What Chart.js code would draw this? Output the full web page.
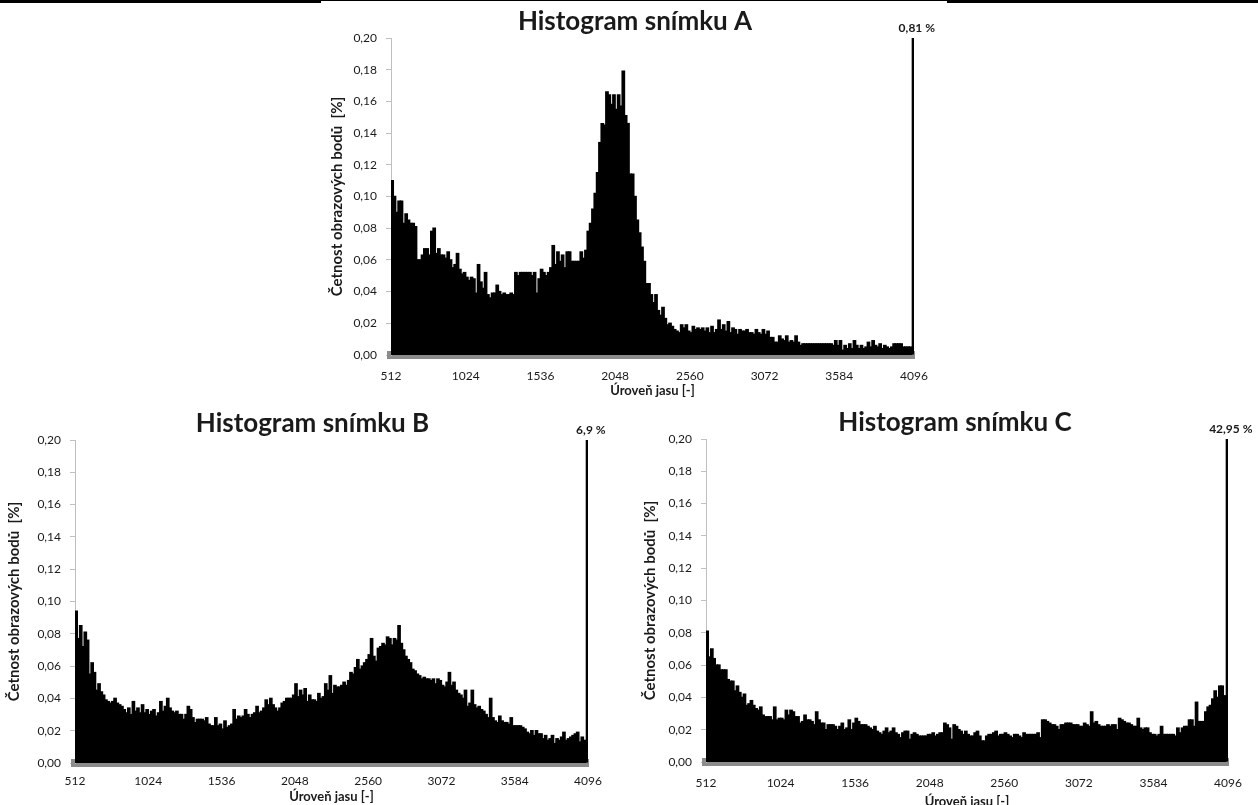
<!DOCTYPE html>
<html>
<head>
<meta charset="utf-8">
<script src="https://cdn.jsdelivr.net/npm/chart.js@4.4.1/dist/chart.umd.min.js"></script>
<style>
  html, body { margin: 0; padding: 0; background: #fff; overflow: hidden; }
  body { width: 1258px; height: 805px; position: relative; }
  canvas { position: absolute; }
  .edge { position: absolute; top: 0; background: #000; }
</style>
</head>
<body>
<div class="edge" style="left:0;width:321px;height:3px"></div>
<div class="edge" style="left:321px;width:626px;height:1px"></div>
<div class="edge" style="left:947px;width:311px;height:3px"></div>

<canvas id="chartA" width="620" height="405" style="left:325px;top:0px"></canvas>
<canvas id="chartB" width="625" height="403" style="left:0px;top:402px"></canvas>
<canvas id="chartC" width="634" height="409" style="left:638px;top:401px"></canvas>

<script>
// histogram bins: 16 brightness levels each, from 512 to 4096 (last bin = saturated spike)
const binStart = 512;
const binWidth = 16;
const xTicks = [512, 1024, 1536, 2048, 2560, 3072, 3584, 4096];
const yMax = 0.20;
const yStep = 0.02;

const titles = ['Histogram snímku A', 'Histogram snímku B', 'Histogram snímku C'];
const xTitle = 'Úroveň jasu [-]';
const yTitle = 'Četnost obrazových bodů  [%]';

const histA = [
  0.110, 0.100, 0.090, 0.097, 0.097, 0.083, 0.089, 0.085, 0.083, 0.083,
  0.081, 0.060, 0.060, 0.063, 0.067, 0.067, 0.063, 0.078, 0.080, 0.064,
  0.067, 0.063, 0.063, 0.061, 0.065, 0.060, 0.055, 0.057, 0.064, 0.054,
  0.051, 0.052, 0.049, 0.047, 0.049, 0.048, 0.039, 0.057, 0.046, 0.042,
  0.052, 0.038, 0.036, 0.039, 0.039, 0.044, 0.040, 0.038, 0.039, 0.038,
  0.038, 0.039, 0.038, 0.052, 0.050, 0.052, 0.052, 0.052, 0.052, 0.052,
  0.050, 0.052, 0.039, 0.048, 0.054, 0.052, 0.050, 0.052, 0.055, 0.069,
  0.057, 0.065, 0.059, 0.063, 0.055, 0.065, 0.065, 0.059, 0.059, 0.059,
  0.059, 0.065, 0.061, 0.066, 0.078, 0.083, 0.092, 0.102, 0.115, 0.134,
  0.146, 0.145, 0.166, 0.164, 0.158, 0.164, 0.155, 0.164, 0.157, 0.179,
  0.151, 0.146, 0.114, 0.114, 0.100, 0.085, 0.077, 0.068, 0.059, 0.045,
  0.045, 0.038, 0.033, 0.038, 0.028, 0.025, 0.030, 0.023, 0.019, 0.020,
  0.018, 0.016, 0.015, 0.014, 0.019, 0.017, 0.019, 0.015, 0.014, 0.018,
  0.016, 0.017, 0.016, 0.017, 0.015, 0.017, 0.014, 0.018, 0.014, 0.016,
  0.022, 0.016, 0.019, 0.015, 0.021, 0.014, 0.017, 0.016, 0.013, 0.016,
  0.015, 0.015, 0.016, 0.014, 0.014, 0.013, 0.016, 0.014, 0.013, 0.016,
  0.013, 0.015, 0.011, 0.011, 0.008, 0.008, 0.012, 0.010, 0.009, 0.012,
  0.008, 0.009, 0.008, 0.012, 0.008, 0.006, 0.007, 0.007, 0.007, 0.007,
  0.007, 0.007, 0.007, 0.007, 0.007, 0.007, 0.007, 0.007, 0.007, 0.006,
  0.009, 0.006, 0.009, 0.003, 0.006, 0.004, 0.007, 0.004, 0.009, 0.006,
  0.004, 0.006, 0.004, 0.005, 0.008, 0.005, 0.009, 0.006, 0.005, 0.007,
  0.004, 0.006, 0.005, 0.004, 0.005, 0.007, 0.007, 0.007, 0.007, 0.005,
  0.005, 0.005, 0.005, 0.81
];

const histB = [
  0.094, 0.077, 0.085, 0.072, 0.081, 0.076, 0.055, 0.062, 0.056, 0.045,
  0.049, 0.044, 0.042, 0.039, 0.038, 0.037, 0.038, 0.040, 0.037, 0.036,
  0.035, 0.033, 0.031, 0.034, 0.030, 0.038, 0.032, 0.034, 0.031, 0.036,
  0.031, 0.033, 0.030, 0.032, 0.033, 0.029, 0.031, 0.038, 0.032, 0.035,
  0.040, 0.034, 0.032, 0.031, 0.032, 0.030, 0.030, 0.027, 0.030, 0.035,
  0.033, 0.028, 0.025, 0.027, 0.027, 0.027, 0.026, 0.028, 0.024, 0.023,
  0.023, 0.028, 0.023, 0.024, 0.021, 0.026, 0.022, 0.023, 0.024, 0.033,
  0.027, 0.029, 0.028, 0.029, 0.033, 0.030, 0.028, 0.030, 0.031, 0.035,
  0.031, 0.032, 0.034, 0.039, 0.036, 0.040, 0.036, 0.034, 0.032, 0.034,
  0.037, 0.038, 0.040, 0.040, 0.040, 0.042, 0.049, 0.041, 0.045, 0.042,
  0.046, 0.038, 0.042, 0.039, 0.039, 0.038, 0.043, 0.040, 0.041, 0.049,
  0.045, 0.054, 0.043, 0.048, 0.047, 0.047, 0.048, 0.050, 0.048, 0.051,
  0.056, 0.055, 0.059, 0.064, 0.058, 0.060, 0.062, 0.064, 0.067, 0.077,
  0.066, 0.063, 0.071, 0.072, 0.074, 0.073, 0.078, 0.077, 0.073, 0.077,
  0.076, 0.085, 0.074, 0.070, 0.066, 0.064, 0.062, 0.058, 0.057, 0.055,
  0.054, 0.052, 0.053, 0.052, 0.052, 0.051, 0.052, 0.049, 0.052, 0.051,
  0.048, 0.047, 0.050, 0.056, 0.048, 0.050, 0.045, 0.043, 0.042, 0.040,
  0.045, 0.035, 0.037, 0.045, 0.036, 0.034, 0.035, 0.033, 0.032, 0.030,
  0.028, 0.040, 0.028, 0.026, 0.025, 0.029, 0.026, 0.025, 0.025, 0.024,
  0.028, 0.023, 0.023, 0.023, 0.023, 0.022, 0.021, 0.019, 0.018, 0.020,
  0.017, 0.020, 0.018, 0.018, 0.015, 0.017, 0.014, 0.015, 0.017, 0.012,
  0.015, 0.014, 0.016, 0.019, 0.014, 0.015, 0.016, 0.017, 0.018, 0.019,
  0.013, 0.016, 0.014, 6.9
];

const histC = [
  0.081, 0.065, 0.070, 0.064, 0.060, 0.060, 0.057, 0.057, 0.057, 0.051,
  0.050, 0.050, 0.044, 0.047, 0.043, 0.040, 0.042, 0.035, 0.036, 0.038,
  0.035, 0.033, 0.032, 0.034, 0.029, 0.028, 0.028, 0.028, 0.026, 0.034,
  0.026, 0.027, 0.027, 0.026, 0.032, 0.029, 0.032, 0.031, 0.028, 0.028,
  0.024, 0.025, 0.029, 0.026, 0.026, 0.025, 0.023, 0.031, 0.026, 0.024,
  0.024, 0.020, 0.023, 0.023, 0.023, 0.022, 0.020, 0.022, 0.024, 0.020,
  0.021, 0.026, 0.020, 0.024, 0.027, 0.025, 0.023, 0.023, 0.023, 0.022,
  0.021, 0.020, 0.022, 0.019, 0.018, 0.017, 0.019, 0.021, 0.018, 0.019,
  0.021, 0.018, 0.017, 0.015, 0.018, 0.019, 0.019, 0.014, 0.017, 0.018,
  0.017, 0.016, 0.016, 0.016, 0.016, 0.017, 0.017, 0.018, 0.016, 0.017,
  0.018, 0.018, 0.024, 0.023, 0.021, 0.014, 0.023, 0.022, 0.020, 0.019,
  0.017, 0.019, 0.017, 0.016, 0.016, 0.018, 0.019, 0.016, 0.013, 0.013,
  0.016, 0.017, 0.017, 0.018, 0.019, 0.016, 0.017, 0.017, 0.018, 0.017,
  0.016, 0.015, 0.017, 0.017, 0.016, 0.015, 0.018, 0.017, 0.017, 0.017,
  0.017, 0.017, 0.018, 0.015, 0.026, 0.026, 0.025, 0.024, 0.023, 0.023,
  0.022, 0.020, 0.023, 0.023, 0.024, 0.024, 0.024, 0.023, 0.023, 0.023,
  0.022, 0.022, 0.024, 0.023, 0.022, 0.031, 0.024, 0.025, 0.023, 0.022,
  0.022, 0.022, 0.023, 0.022, 0.023, 0.023, 0.020, 0.027, 0.026, 0.025,
  0.024, 0.024, 0.023, 0.022, 0.022, 0.027, 0.021, 0.020, 0.021, 0.021,
  0.018, 0.017, 0.017, 0.016, 0.017, 0.022, 0.017, 0.017, 0.017, 0.017,
  0.017, 0.016, 0.021, 0.018, 0.021, 0.022, 0.022, 0.026, 0.026, 0.022,
  0.037, 0.025, 0.025, 0.025, 0.031, 0.034, 0.035, 0.039, 0.044, 0.040,
  0.047, 0.047, 0.041, 42.95
];

const fontFamily = 'Lato, "Open Sans", sans-serif';
const textColor = '#1a1a1a';

function fmt(v, digits) {
  return (digits == null ? String(v) : v.toFixed(digits)).replace('.', ',');
}

// writes the off-scale value of the last bin above the plot
const peakLabel = {
  id: 'peakLabel',
  afterDatasetsDraw(chart) {
    const meta = chart.getDatasetMeta(0);
    const idx = meta.data.length - 1;
    const bar = meta.data[idx];
    const v = chart.data.datasets[0].data[idx].y;
    const ctx = chart.ctx;
    ctx.save();
    ctx.font = 'bold 12px ' + fontFamily;
    ctx.fillStyle = textColor;
    ctx.textAlign = 'center';
    ctx.textBaseline = 'bottom';
    ctx.fillText(fmt(v) + ' %', bar.x + 4, chart.chartArea.top - 4);
    ctx.restore();
  }
};

function makeHistogram(id, title, values, box) {
  const points = values.map((v, i) => ({ x: binStart + binWidth * (i + 0.5), y: v }));
  const lastIdx = values.length - 1;

  return new Chart(document.getElementById(id), {
    type: 'bar',
    data: {
      datasets: [{
        data: points,
        backgroundColor: '#000000',
        borderWidth: 0,
        barPercentage: 1.0,
        categoryPercentage: 1.0,
        // close the hairline gaps between neighbouring bins, keep the spike thin
        inflateAmount: (c) => (c.dataIndex === lastIdx ? 0 : 0.7),
        grouped: false
      }]
    },
    options: {
      responsive: false,
      animation: false,
      devicePixelRatio: 1,
      plugins: {
        legend: { display: false },
        tooltip: { enabled: false },
        title: {
          display: true,
          text: title,
          color: textColor,
          font: { family: fontFamily, size: 26, weight: 'bold' },
          padding: { top: 6, bottom: 0.8 }
        }
      },
      scales: {
        x: {
          type: 'linear',
          min: binStart,
          max: xTicks[xTicks.length - 1],
          offset: false,
          afterFit(scale) { scale.height = box.xHeight; },
          afterBuildTicks(scale) { scale.ticks = xTicks.map(v => ({ value: v })); },
          grid: { display: false },
          border: { display: true, color: '#8c8c8c', width: 8 },
          ticks: {
            color: textColor,
            padding: box.tickPad,
            maxRotation: 0,
            autoSkip: false,
            font: { family: fontFamily, size: 12 },
            callback: v => String(v)
          },
          title: {
            display: true,
            text: xTitle,
            color: textColor,
            font: { family: fontFamily, size: 13, weight: 'bold' },
            padding: { top: 0, bottom: box.xTitlePad }
          }
        },
        y: {
          min: 0,
          max: yMax,
          afterFit(scale) { scale.width = box.yWidth; },
          grid: { drawOnChartArea: false, color: '#bfbfbf', tickLength: 5 },
          border: { display: true, color: '#bfbfbf', width: 1 },
          ticks: {
            stepSize: yStep,
            color: textColor,
            padding: 9,
            font: { family: fontFamily, size: 12 },
            callback: v => fmt(v, 2)
          },
          title: {
            display: true,
            text: yTitle,
            color: textColor,
            font: { family: fontFamily, size: 15, weight: 'bold' },
            padding: { top: box.yTitlePad, bottom: 0 }
          }
        },
        // empty right-hand margin that keeps the title centred on the whole canvas
        margin: {
          type: 'linear',
          position: 'right',
          afterFit(scale) { scale.width = box.padRight; },
          grid: { display: false },
          border: { display: false },
          ticks: { display: false }
        }
      }
    },
    plugins: [peakLabel]
  });
}

makeHistogram('chartA', titles[0], histA, { yWidth: 66, padRight: 31, xHeight: 50, tickPad: 6, xTitlePad: 6, yTitlePad: 3 });
makeHistogram('chartB', titles[1], histB, { yWidth: 75, padRight: 37, xHeight: 42, tickPad: 3, xTitlePad: 0, yTitlePad: 5 });
makeHistogram('chartC', titles[2], histC, { yWidth: 68, padRight: 44, xHeight: 48, tickPad: 6, xTitlePad: 0, yTitlePad: 3 });
</script>
</body>
</html>
